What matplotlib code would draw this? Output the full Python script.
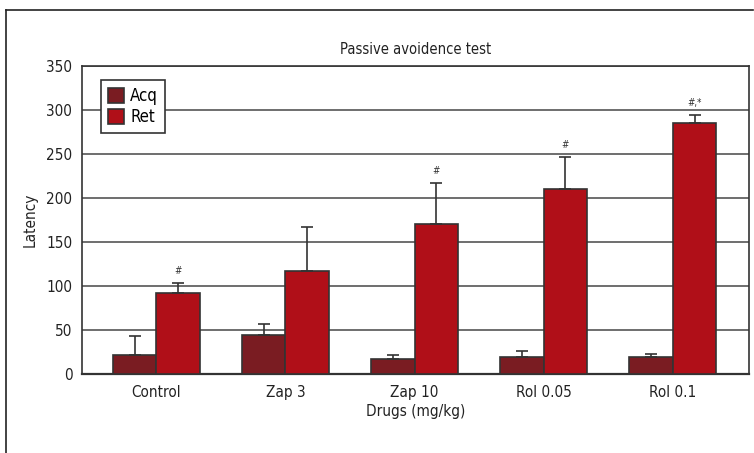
import numpy as np
import matplotlib.pyplot as plt
from matplotlib.lines import Line2D

plt.rcParams['font.family'] = ['DejaVu Sans']
plt.rcParams['font.stretch'] = 'condensed'

groups = ['Control', 'Zap 3', 'Zap 10', 'Rol 0.05', 'Rol 0.1']
acq = [21, 44, 17, 19, 19]
acq_err = [22, 13, 4, 7, 4]
ret = [92, 117, 170, 210, 285]
ret_err = [11, 50, 47, 36, 9]
marks = ['#', '', '#', '#', '#,*']

fig = plt.figure(figsize=(7.54, 4.53), dpi=100)
ax = fig.add_axes([0.1088, 0.175, 0.8846, 0.6793])

x = np.arange(len(groups))
w = 0.337
err_kw = dict(ecolor='#333333', elinewidth=1.2, capsize=4, capthick=1.2)
ax.bar(x - w / 2, acq, w, yerr=[np.zeros(len(acq)), acq_err], color='#7a1c22',
       edgecolor='#333333', linewidth=1.2, label='Acq', error_kw=err_kw, zorder=3)
ax.bar(x + w / 2, ret, w, yerr=[np.zeros(len(ret)), ret_err], color='#b00f18',
       edgecolor='#333333', linewidth=1.2, label='Ret', error_kw=err_kw, zorder=3)

for i, m in enumerate(marks):
    if m:
        ax.text(x[i] + w / 2, ret[i] + ret_err[i] + 14, m, ha='center', va='center',
                fontsize=7, color='#333333')

ax.set_xlim(-0.575, 4.59)
ax.set_ylim(0, 350)
ax.set_yticks(range(0, 351, 50))
ax.set_xticks(x)
ax.set_xticklabels(groups)
ax.tick_params(length=0, labelsize=11, colors='#222222')
ax.tick_params(axis='y', pad=7)
ax.tick_params(axis='x', pad=8)
ax.yaxis.grid(True, color='#555555', linewidth=1.2, zorder=0)
ax.set_axisbelow(True)
for s in ax.spines.values():
    s.set_color('#333333')
    s.set_linewidth(1.2)
ax.spines['bottom'].set_linewidth(1.6)

ax.set_title('Passive avoidence test', fontsize=10.5, pad=9, color='#222222')
ax.set_xlabel('Drugs (mg/kg)', fontsize=11, labelpad=3, color='#222222')
ax.set_ylabel('Latency', fontsize=11, labelpad=6, color='#222222')

leg = ax.legend(loc='upper left', bbox_to_anchor=(0.0285, 0.954), fontsize=12,
                fancybox=False, framealpha=1, edgecolor='#333333',
                handlelength=1.0, handleheight=1.0, handletextpad=0.35,
                labelspacing=0.2, borderpad=0.4, borderaxespad=0)
leg.get_frame().set_linewidth(1.2)

# outer frame of the figure panel
fig.add_artist(Line2D([6 / 754, 6 / 754], [0, 1 - 10 / 453], color='#222222', lw=1.2))
fig.add_artist(Line2D([6 / 754, 753 / 754], [1 - 10 / 453, 1 - 10 / 453], color='#222222', lw=1.2))

fig.savefig('out.png', dpi=100)
